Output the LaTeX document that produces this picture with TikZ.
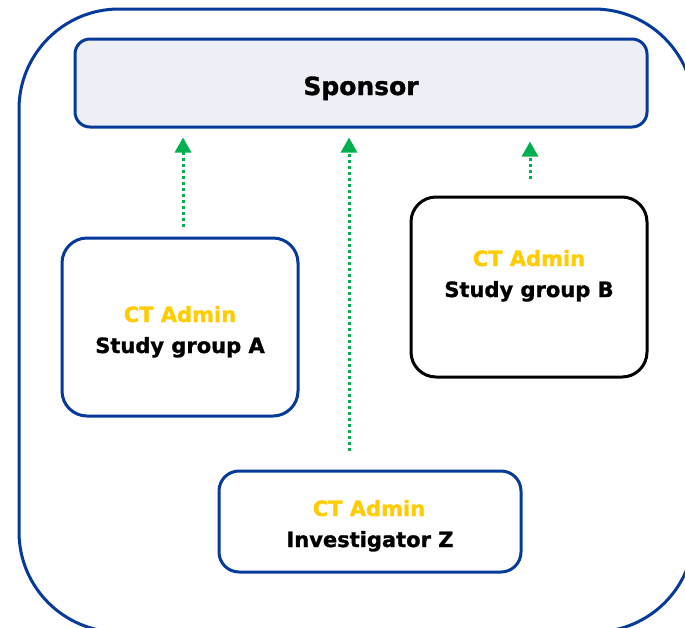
\documentclass[tikz,border=0pt]{standalone}
\usepackage{fontspec}
\setmainfont[BoldFeatures={FakeBold=1.2}]{DejaVu Sans}
\usetikzlibrary{arrows.meta,calc}
\definecolor{eublue}{HTML}{063A9A}
\definecolor{ctyellow}{HTML}{FFCC00}
\definecolor{arrgreen}{HTML}{00B050}
\definecolor{sponsorfill}{HTML}{EEEEF7}
\tikzset{
  boxblue/.style={draw=eublue, line width=3pt, rounded corners=25pt, fill=white},
  boxblack/.style={draw=black, line width=3pt, rounded corners=25pt, fill=white},
  admintxt/.style={anchor=base, text=ctyellow, font=\fontsize{21}{25}\selectfont\bfseries, inner sep=0pt},
  roletxt/.style={anchor=base, text=black, font=\fontsize{21}{25}\selectfont\bfseries, inner sep=0pt},
  greenarrow/.style={draw=arrgreen, line width=3pt, dash pattern=on 3pt off 3pt,
    -{Triangle[width=16pt,length=15pt]}},
}
\begin{document}
\begin{tikzpicture}[x=1pt,y=-1pt]
\useasboundingbox (0,0) rectangle (685,627);
\clip (0,0) rectangle (685,627);
% outer frame
\draw[eublue, line width=3pt, rounded corners=100pt] (19,9) rectangle (694,632);
% sponsor
\node[draw=eublue, line width=3pt, fill=sponsorfill, rounded corners=15pt,
  minimum width=572pt, minimum height=88pt, inner sep=0pt] (sponsor) at (361,83) {};
\node[anchor=base, font=\fontsize{25}{30}\selectfont\bfseries, inner sep=0pt] (sponsorlbl) at (361,95) {Sponsor};
% boxes
\node[boxblue, minimum width=236pt, minimum height=178pt, inner sep=0pt] (boxA) at (180,327) {};
\node[boxblack, minimum width=236pt, minimum height=180pt, inner sep=0pt] (boxB) at (529,287) {};
\node[boxblue, rounded corners=20pt, minimum width=302pt, minimum height=101pt, inner sep=0pt] (boxZ) at (370,521.5) {};
% texts
\node[admintxt] (adminA) at (180,322) {CT Admin};
\node[roletxt] (roleA) at (180,353) {Study group A};
\node[admintxt] (adminB) at (529,266) {CT Admin};
\node[roletxt] (roleB) at (529,297) {Study group B};
\node[admintxt] (adminZ) at (369,516) {CT Admin};
\node[roletxt] (roleZ) at (370,547) {Investigator Z};
% arrows
\coordinate (startA) at ($(boxA.north)+(3,-10)$);
\coordinate (startB) at ($(boxB.north)+(1,-17)$);
\coordinate (startZ) at ($(boxZ.north)+(-21,-19)$);
\draw[greenarrow] (startA) -- ($(startA |- sponsor.south)+(0,9)$);
\draw[greenarrow] (startZ) -- ($(startZ |- sponsor.south)+(0,9)$);
\draw[greenarrow] (startB) -- ($(startB |- sponsor.south)+(0,13)$);
\end{tikzpicture}
\end{document}
